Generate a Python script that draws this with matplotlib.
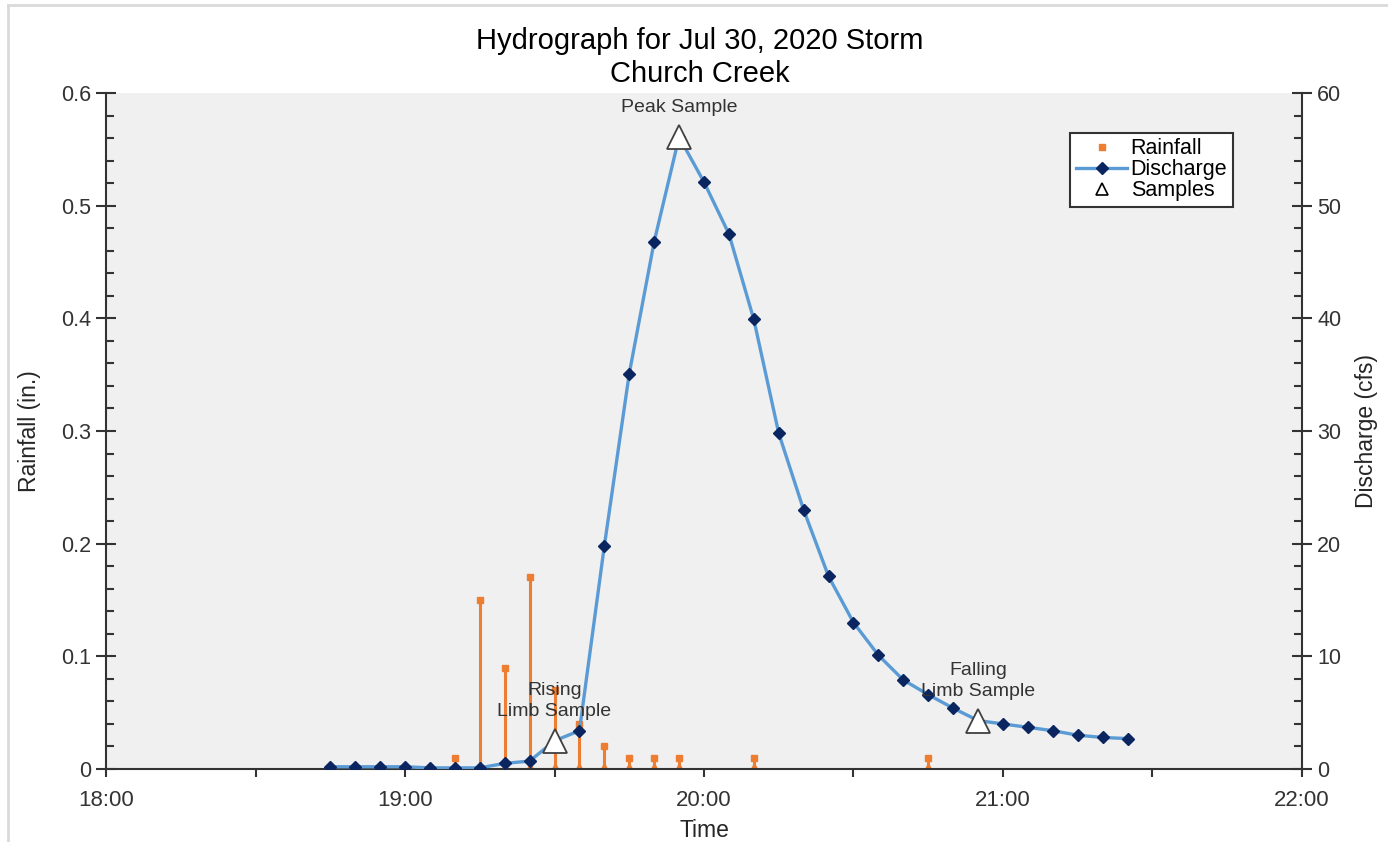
import numpy as np
import pandas as pd
import matplotlib
matplotlib.use("Agg")
import matplotlib.pyplot as plt
import matplotlib.dates as mdates
from matplotlib.lines import Line2D
from matplotlib.ticker import MultipleLocator

plt.rcParams['font.family'] = ['Liberation Sans', 'DejaVu Sans']

# rainfall (in.) per 5-minute interval
rain_times = ["19:10", "19:15", "19:20", "19:25", "19:30", "19:35", "19:40",
              "19:45", "19:50", "19:55", "20:10", "20:45"]
rain_in = [0.01, 0.15, 0.09, 0.17, 0.07, 0.04, 0.02, 0.01, 0.01, 0.01, 0.01, 0.01]

# discharge (cfs), 5-minute readings from 18:45 to 21:25
flow_times = ["18:45", "18:50", "18:55", "19:00", "19:05", "19:10", "19:15",
              "19:20", "19:25", "19:30", "19:35", "19:40", "19:45", "19:50",
              "19:55", "20:00", "20:05", "20:10", "20:15", "20:20", "20:25",
              "20:30", "20:35", "20:40", "20:45", "20:50", "20:55", "21:00",
              "21:05", "21:10", "21:15", "21:20", "21:25"]
flow_cfs = [0.2, 0.2, 0.2, 0.2, 0.1, 0.1, 0.1, 0.5, 0.7, 2.5, 3.4, 19.8, 35.1,
            46.8, 56.1, 52.1, 47.5, 39.9, 29.8, 23.0, 17.1, 13.0, 10.1, 7.9,
            6.6, 5.4, 4.3, 4.0, 3.7, 3.4, 3.0, 2.8, 2.7]

# grab samples
sample_times = ["19:30", "19:55", "20:55"]
sample_cfs = [2.5, 56.1, 4.3]
sample_labels = ["Rising\nLimb Sample", "Peak Sample", "Falling\nLimb Sample"]

day = "2020-07-30 "
to_dt = lambda ts: pd.to_datetime([day + t for t in ts])
rt = to_dt(rain_times)
ft = to_dt(flow_times)
st = to_dt(sample_times)

orange = '#ED7D31'
blue = '#5B9BD5'
navy = '#0B2560'
txt = '#262626'

fig = plt.figure(figsize=(13.88, 8.42), dpi=100)
ax = fig.add_axes([0.0764, 0.0867, 0.8616, 0.8028])
ax.set_facecolor('#F0F0F0')
ax2 = ax.twinx()

# rainfall stems
ax.vlines(rt, 0, rain_in, color=orange, lw=2.2, zorder=2)
ax.plot(rt, rain_in, ls='none', marker='s', ms=5, color=orange, zorder=3)
ax.plot(rt, np.zeros(len(rt)), ls='none', marker='^', ms=8, color=orange,
        zorder=2, clip_on=True)

# discharge line and samples
ax2.plot(ft, flow_cfs, color=blue, lw=2.4, zorder=3)
ax2.plot(ft, flow_cfs, ls='none', marker='D', ms=6, color=navy, zorder=4)
ax2.plot(st, sample_cfs, ls='none', marker='^', ms=17, mfc='white',
         mec='#404040', mew=1.3, zorder=5)
for t, v, lab in zip(st, sample_cfs, sample_labels):
    ax2.annotate(lab, (t, v), xytext=(0, 15), textcoords='offset points',
                 ha='center', va='bottom', fontsize=14, color='#333333',
                 linespacing=1.3, zorder=6)

ax.set_xlim(pd.Timestamp(day + "18:00"), pd.Timestamp(day + "22:00"))
ax.set_ylim(0, 0.6)
ax2.set_ylim(0, 60)

ax.xaxis.set_major_locator(mdates.HourLocator())
ax.xaxis.set_minor_locator(mdates.MinuteLocator(byminute=[30]))
ax.xaxis.set_major_formatter(mdates.DateFormatter('%H:%M'))
ax.yaxis.set_major_locator(MultipleLocator(0.1))
ax.yaxis.set_minor_locator(MultipleLocator(0.02))
ax.yaxis.set_major_formatter(lambda v, p: '0' if v == 0 else f'{v:.1f}')
ax2.yaxis.set_major_locator(MultipleLocator(10))
ax2.yaxis.set_minor_locator(MultipleLocator(2))

ax.tick_params(axis='x', which='both', direction='out', length=6, width=1.5,
               labelsize=16, colors='#333333', pad=9)
ax.tick_params(axis='y', which='major', direction='inout', length=14,
               width=1.5, labelsize=15.5, colors='#333333', pad=4)
ax.tick_params(axis='y', which='minor', direction='in', length=6, width=1.5,
               colors='#333333')
ax2.tick_params(axis='y', which='major', direction='inout', length=14,
                width=1.5, labelsize=15.5, colors='#333333', pad=4)
ax2.tick_params(axis='y', which='minor', direction='in', length=6, width=1.5,
                colors='#333333')

for a in (ax, ax2):
    a.spines['top'].set_visible(False)
    for s in ('left', 'right', 'bottom'):
        a.spines[s].set_linewidth(1.5)
        a.spines[s].set_color('#333333')
ax2.spines['left'].set_visible(False)
ax2.spines['bottom'].set_visible(False)
ax.spines['right'].set_visible(False)

ax.set_xlabel('Time', fontsize=16.5, color=txt, labelpad=6)
ax.set_ylabel('Rainfall (in.)', fontsize=16.5, color=txt, labelpad=14)
ax2.set_ylabel('Discharge (cfs)', fontsize=16.5, color=txt, labelpad=10)

fig.text(0.504, 0.951, 'Hydrograph for Jul 30, 2020 Storm', ha='center',
         va='center', fontsize=21, color='black')
fig.text(0.504, 0.912, 'Church Creek', ha='center', va='center',
         fontsize=21, color='black')

handles = [
    Line2D([], [], ls='none', marker='s', ms=5, color=orange),
    Line2D([], [], color=blue, lw=2.4, marker='D', ms=6, mfc=navy, mec=navy),
    Line2D([], [], ls='none', marker='^', ms=9, mfc='white', mec='black',
           mew=1.2),
]
leg = ax2.legend(handles, ['Rainfall', 'Discharge', 'Samples'],
                 loc='upper right', bbox_to_anchor=(0.942, 0.941),
                 fontsize=15.5, frameon=True, fancybox=False, framealpha=1,
                 edgecolor='#333333', handlelength=2.4, handletextpad=0.15,
                 labelspacing=0.0, borderpad=0.25, borderaxespad=0)
leg.get_frame().set_linewidth(1.5)

# thin outer frame along the top and left edges
fig.add_artist(Line2D([8 / 1388, 1], [1 - 5 / 842] * 2, color='#DADADA',
                      lw=2, transform=fig.transFigure))
fig.add_artist(Line2D([8 / 1388] * 2, [0, 1 - 5 / 842], color='#DADADA',
                      lw=2, transform=fig.transFigure))

fig.savefig('out.png', dpi=100, facecolor='white')
